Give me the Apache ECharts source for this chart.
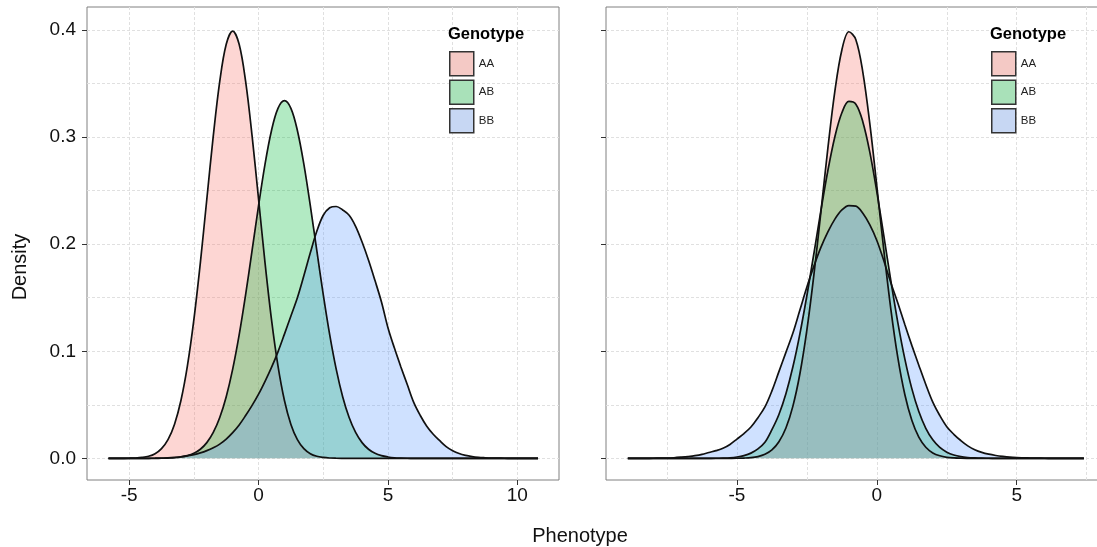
<!DOCTYPE html>
<html>
<head>
<meta charset="utf-8">
<title>Phenotype density by genotype</title>
<script src="https://cdn.jsdelivr.net/npm/echarts@6/dist/echarts.min.js"></script>
<style>
  html, body { margin: 0; padding: 0; background: #fff; }
  #chart { width: 1097px; height: 547px; }
</style>
</head>
<body>
<div id="chart"></div>
<script>
// Genotype groups and their fill colours
const genotypes = ['AA', 'AB', 'BB'];
const fillColors = ['#F8766D', '#00BA38', '#619CFF'];
const keyColors = ['#F4C9C5', '#A9E1B9', '#C7D7F3'];

// Left panel: phenotype grid and density estimates per genotype
const leftX = [
  -5.8, -5.5, -5.25, -5, -4.75, -4.5, -4.25, -4, -3.75, -3.5,
  -3.25, -3, -2.75, -2.5, -2.25, -2, -1.75, -1.5, -1.25, -1,
  -0.75, -0.5, -0.25, 0, 0.25, 0.5, 0.75, 1, 1.25, 1.5,
  1.75, 2, 2.25, 2.5, 2.75, 3, 3.25, 3.5, 3.75, 4,
  4.25, 4.5, 4.75, 5, 5.25, 5.5, 5.75, 6, 6.25, 6.5,
  6.75, 7, 7.25, 7.5, 7.75, 8, 8.25, 8.5, 8.75, 9,
  9.25, 9.5, 9.75, 10, 10.25, 10.5, 10.8];
const leftAA = [
  0, 0.00002, 0.00005, 0.00013, 0.00035, 0.0009, 0.0020, 0.0044, 0.0091, 0.0175,
  0.0317, 0.054, 0.0863, 0.1295, 0.1826, 0.242, 0.3011, 0.352, 0.3867, 0.399,
  0.3867, 0.352, 0.3011, 0.242, 0.1826, 0.1295, 0.0863, 0.054, 0.0317, 0.0175,
  0.0091, 0.0044, 0.0020, 0.0009, 0.00035, 0.00013, 0.00005, 0.00002, 0, 0,
  0, 0, 0, 0, 0, 0, 0, 0, 0, 0,
  0, 0, 0, 0, 0, 0, 0, 0, 0, 0,
  0, 0, 0, 0, 0, 0, 0];
const leftAB = [
  0, 0, 0, 0, 0, 0.00001, 0.00002, 0.00006, 0.00013, 0.0003,
  0.0006, 0.0013, 0.0025, 0.0047, 0.0085, 0.0147, 0.0242, 0.0381, 0.0576, 0.0833,
  0.1153, 0.1529, 0.1942, 0.2360, 0.2748, 0.3062, 0.3268, 0.334, 0.3268, 0.3062,
  0.2748, 0.2360, 0.1942, 0.1529, 0.1153, 0.0833, 0.0576, 0.0381, 0.0242, 0.0147,
  0.0085, 0.0047, 0.0025, 0.0013, 0.0006, 0.0003, 0.00013, 0.00006, 0.00002, 0.00001,
  0, 0, 0, 0, 0, 0, 0, 0, 0, 0,
  0, 0, 0, 0, 0, 0, 0];
const leftBB = [
  0, 0, 0, 0.00001, 0.00002, 0.00003, 0.00007, 0.00015, 0.0003, 0.0005,
  0.0009, 0.0015, 0.0024, 0.0035, 0.0051, 0.0072, 0.0099, 0.0133, 0.0180, 0.0240,
  0.0312, 0.0400, 0.0495, 0.0600, 0.0720, 0.0850, 0.0995, 0.1160, 0.1330, 0.1500,
  0.1705, 0.1920, 0.2120, 0.2270, 0.2340, 0.2352, 0.2320, 0.2270, 0.2167, 0.2020,
  0.1850, 0.1660, 0.1460, 0.1220, 0.1030, 0.0854, 0.0687, 0.0520, 0.0400, 0.0300,
  0.0225, 0.0165, 0.0110, 0.0072, 0.0045, 0.0028, 0.0017, 0.0010, 0.0006, 0.0003,
  0.0002, 0.0001, 0.00005, 0.00003, 0.00002, 0.00001, 0];

// Right panel: phenotype grid and density estimates per genotype
const rightX = [
  -8.9, -8.5, -8.25, -8, -7.75, -7.5, -7.25, -7, -6.75, -6.5,
  -6.25, -6, -5.75, -5.5, -5.25, -5, -4.75, -4.5, -4.25, -4,
  -3.75, -3.5, -3.25, -3, -2.75, -2.5, -2.25, -2, -1.75, -1.5,
  -1.25, -1, -0.75, -0.5, -0.25, 0, 0.25, 0.5, 0.75, 1,
  1.25, 1.5, 1.75, 2, 2.25, 2.5, 2.75, 3, 3.25, 3.5,
  3.75, 4, 4.25, 4.5, 4.75, 5, 5.25, 5.5, 5.75, 6,
  6.25, 6.5, 6.75, 7, 7.4];
const rightAA = [
  0, 0, 0, 0, 0, 0, 0, 0, 0, 0,
  0, 0, 0, 0.00001, 0.00004, 0.0001, 0.0003, 0.0007, 0.0017, 0.0038,
  0.0079, 0.0155, 0.0283, 0.0488, 0.0790, 0.1200, 0.1714, 0.2299, 0.2897, 0.3429,
  0.3814, 0.3984, 0.3910, 0.3605, 0.3123, 0.2541, 0.1942, 0.1394, 0.0940, 0.0596,
  0.0355, 0.0198, 0.0104, 0.0051, 0.0024, 0.0010, 0.0004, 0.00016, 0.00006, 0.00002,
  0, 0, 0, 0, 0, 0, 0, 0, 0, 0,
  0, 0, 0, 0, 0];
const rightAB = [
  0, 0, 0, 0, 0, 0, 0, 0, 0, 0,
  0.00002, 0.00005, 0.0001, 0.0003, 0.0006, 0.0013, 0.0026, 0.0049, 0.0088, 0.0150,
  0.0268, 0.0410, 0.0604, 0.0855, 0.1163, 0.1521, 0.1913, 0.2313, 0.2688, 0.3004,
  0.3227, 0.3333, 0.3307, 0.3142, 0.2858, 0.2489, 0.2077, 0.1659, 0.1268, 0.0929,
  0.0651, 0.0437, 0.0281, 0.0173, 0.0102, 0.0058, 0.0031, 0.0016, 0.0008, 0.0004,
  0.00017, 0.0001, 0.00003, 0.00001, 0, 0, 0, 0, 0, 0,
  0, 0, 0, 0, 0];
const rightBB = [
  0, 0.00005, 0.00007, 0.0001, 0.0002, 0.0003, 0.0006, 0.0011, 0.0017, 0.0025,
  0.0037, 0.0055, 0.0072, 0.0094, 0.0130, 0.0180, 0.0232, 0.0293, 0.0380, 0.0480,
  0.0630, 0.0810, 0.0990, 0.1170, 0.1385, 0.1600, 0.1795, 0.1970, 0.2115, 0.2234,
  0.2320, 0.2361, 0.2355, 0.2289, 0.2180, 0.2035, 0.1845, 0.1640, 0.1450, 0.1250,
  0.1055, 0.0870, 0.0690, 0.0525, 0.0400, 0.0296, 0.0225, 0.0167, 0.0117, 0.0081,
  0.0056, 0.0039, 0.0027, 0.0018, 0.0011, 0.0007, 0.0005, 0.0003, 0.0002, 0.0001,
  0.00006, 0.00004, 0.00002, 0.00001, 0];

// Axis ticks and grid lines
const leftXTicks = [-5, 0, 5, 10];
const rightXTicks = [-5, 0, 5];
const yTicks = [0, 0.1, 0.2, 0.3, 0.4];
const leftXGrid = [-5, -2.5, 0, 2.5, 5, 7.5, 10];
const rightXGrid = [-7.5, -5, -2.5, 0, 2.5, 5, 7.5];
const yGrid = [0, 0.05, 0.1, 0.15, 0.2, 0.25, 0.3, 0.35, 0.4];

const FONT = '"Liberation Sans", Arial, Helvetica, sans-serif';

function pairs(xs, ys) {
  return xs.map((x, i) => [x, ys[i]]);
}

function densitySeries(name, idx, grid, xs, ys) {
  return {
    name: name,
    type: 'line',
    xAxisIndex: grid,
    yAxisIndex: grid,
    data: pairs(xs, ys),
    smooth: 0.35,
    symbol: 'none',
    z: 3,
    lineStyle: { color: '#111', width: 1.7 },
    itemStyle: { color: fillColors[idx] },
    areaStyle: { color: fillColors[idx], opacity: 0.3, origin: 0 },
    emphasis: { disabled: true }
  };
}

function gridSeries(grid, xg) {
  return {
    type: 'line',
    xAxisIndex: grid,
    yAxisIndex: grid,
    data: [],
    z: 1,
    silent: true,
    markLine: {
      z: 1,
      silent: true,
      symbol: ['none', 'none'],
      label: { show: false },
      animation: false,
      lineStyle: { type: [3, 2], color: '#e0e0e0', width: 1 },
      data: xg.map(v => ({ xAxis: v })).concat(yGrid.map(v => ({ yAxis: v })))
    }
  };
}

function xAxisFor(grid, min, max, ticks) {
  return {
    type: 'value', gridIndex: grid, min: min, max: max,
    axisLine: { show: false, onZero: false },
    splitLine: { show: false },
    axisTick: { show: true, length: 5, customValues: ticks, lineStyle: { color: '#333', width: 1 } },
    axisLabel: { customValues: ticks, fontSize: 19, color: '#111', fontFamily: FONT, margin: 6 }
  };
}

function yAxisFor(grid, showLabels) {
  return {
    type: 'value', gridIndex: grid, min: -0.0202, max: 0.4215,
    axisLine: { show: false, onZero: false },
    splitLine: { show: false },
    axisTick: { show: true, length: 5, customValues: yTicks, lineStyle: { color: '#333', width: 1 } },
    axisLabel: {
      show: showLabels, customValues: yTicks, fontSize: 19, color: '#111', fontFamily: FONT, margin: 11,
      formatter: v => v.toFixed(1)
    }
  };
}

function legendFor(left) {
  return {
    left: left, top: 51, orient: 'vertical', padding: 0,
    icon: 'rect', itemWidth: 24, itemHeight: 24, itemGap: 3,
    selectedMode: false,
    itemStyle: { borderColor: '#333', borderWidth: 1.5 },
    textStyle: { fontSize: 11.5, color: '#222', fontFamily: FONT, padding: [0, 0, 0, 0] },
    data: genotypes.map((g, i) => ({ name: g, itemStyle: { color: keyColors[i] } }))
  };
}

const chart = echarts.init(document.getElementById('chart'), null, { renderer: 'canvas' });

chart.setOption({
  animation: false,
  backgroundColor: '#fff',
  title: [
    { text: 'Genotype', left: 448, top: 26, padding: 0,
      textStyle: { fontSize: 16.5, fontWeight: 'bold', color: '#000', fontFamily: FONT } },
    { text: 'Genotype', left: 990, top: 26, padding: 0,
      textStyle: { fontSize: 16.5, fontWeight: 'bold', color: '#000', fontFamily: FONT } }
  ],
  legend: [legendFor(449), legendFor(991)],
  grid: [
    { left: 87, top: 7, width: 472, height: 473, show: true, borderColor: '#808080', borderWidth: 1,
      backgroundColor: 'transparent', outerBoundsMode: 'none', containLabel: false },
    { left: 606, top: 7, width: 500, height: 473, show: true, borderColor: '#808080', borderWidth: 1,
      backgroundColor: 'transparent', outerBoundsMode: 'none', containLabel: false }
  ],
  xAxis: [
    xAxisFor(0, -6.63, 11.61, leftXTicks),
    xAxisFor(1, -9.68, 8.19, rightXTicks)
  ],
  yAxis: [yAxisFor(0, true), yAxisFor(1, false)],
  graphic: [
    { type: 'text', x: 20, y: 267, rotation: Math.PI / 2,
      style: { text: 'Density', fontSize: 20, fontFamily: FONT, fill: '#111', align: 'center', verticalAlign: 'middle' } },
    { type: 'text', x: 580, y: 536,
      style: { text: 'Phenotype', fontSize: 20, fontFamily: FONT, fill: '#111', align: 'center', verticalAlign: 'middle' } }
  ],
  series: [
    gridSeries(0, leftXGrid),
    gridSeries(1, rightXGrid),
    densitySeries('AA', 0, 0, leftX, leftAA),
    densitySeries('AB', 1, 0, leftX, leftAB),
    densitySeries('BB', 2, 0, leftX, leftBB),
    densitySeries('AA', 0, 1, rightX, rightAA),
    densitySeries('AB', 1, 1, rightX, rightAB),
    densitySeries('BB', 2, 1, rightX, rightBB)
  ]
});
</script>
</body>
</html>
